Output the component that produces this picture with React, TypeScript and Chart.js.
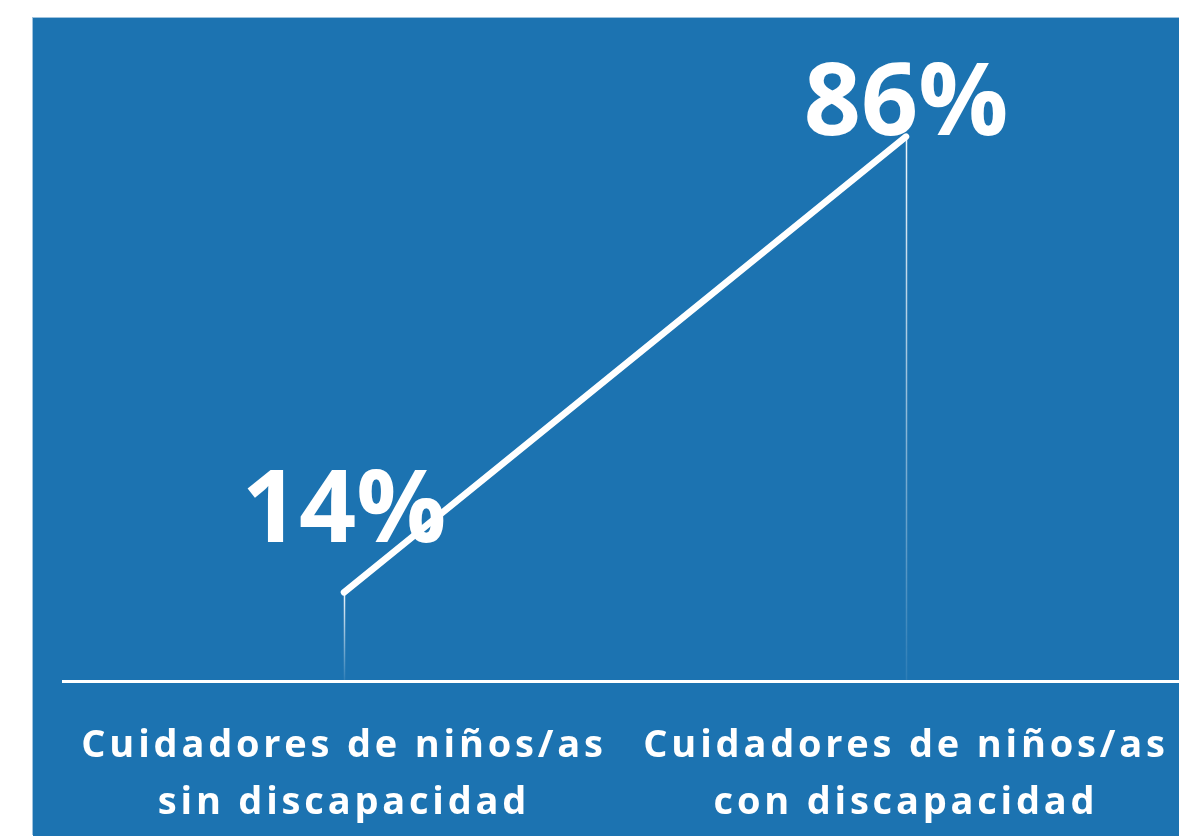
import React, { useEffect, useRef } from "react";
import { Chart, registerables } from "chart.js";

Chart.register(...registerables);

const categories: string[][] = [
  ["Cuidadores de niños/as", "sin discapacidad"],
  ["Cuidadores de niños/as", "con discapacidad"],
];
const values: number[] = [14, 86];
const valueLabels: string[] = ["14%", "86%"];

const BLUE = "#1c73b1";
const FONT = "'Open Sans', 'DejaVu Sans', sans-serif";
const LABEL_BASELINE_OFFSETS = [-50, -2];
const TICK_SPACING = "3.8px";

const valueLabelPlugin = {
  id: "valueLabels",
  beforeDraw(chart: any) {
    (chart.ctx as any).letterSpacing = TICK_SPACING;
  },
  beforeDatasetsDraw(chart: any) {
    const ctx = chart.ctx;
    const meta = chart.getDatasetMeta(0);
    const bottom = chart.chartArea.bottom;
    ctx.save();
    meta.data.forEach((pt: any) => {
      const g = ctx.createLinearGradient(0, pt.y, 0, bottom);
      g.addColorStop(0, "rgba(255,255,255,0.95)");
      g.addColorStop(1, "rgba(255,255,255,0.08)");
      ctx.strokeStyle = g;
      ctx.lineWidth = 1.5;
      ctx.beginPath();
      ctx.moveTo(Math.round(pt.x) + 0.5, pt.y);
      ctx.lineTo(Math.round(pt.x) + 0.5, bottom);
      ctx.stroke();
    });
    ctx.restore();
  },
  afterDatasetsDraw(chart: any) {
    const ctx = chart.ctx;
    const meta = chart.getDatasetMeta(0);
    ctx.save();
    (ctx as any).letterSpacing = "0px";
    ctx.fillStyle = "#ffffff";
    ctx.font = `bold 100px ${FONT}`;
    ctx.textAlign = "center";
    ctx.textBaseline = "alphabetic";
    meta.data.forEach((pt: any, i: number) => {
      ctx.fillText(valueLabels[i], pt.x, pt.y + LABEL_BASELINE_OFFSETS[i]);
    });
    ctx.restore();
    (ctx as any).letterSpacing = TICK_SPACING;
  },
};

export default function App() {
  const ref = useRef<HTMLCanvasElement | null>(null);
  useEffect(() => {
    if (!ref.current) return;
    const chart = new Chart(ref.current, {
      type: "line",
      data: {
        labels: categories,
        datasets: [
          {
            data: values,
            borderColor: "#ffffff",
            borderWidth: 6.5,
            borderCapStyle: "round",
            pointRadius: 0,
            pointHoverRadius: 0,
            tension: 0,
            fill: false,
            clip: false as any,
          },
        ],
      },
      options: {
        animation: false,
        responsive: false,
        devicePixelRatio: 1,
        layout: { padding: { left: 30, top: 30, right: 0, bottom: 0 } },
        plugins: {
          legend: { display: false },
          tooltip: { enabled: false },
          title: { display: false },
        },
        scales: {
          y: { display: false, min: 0, max: 100 },
          x: {
            type: "category",
            offset: true,
            grid: { display: false, drawTicks: false },
            border: { display: true, color: "#ffffff", width: 3 },
            ticks: {
              color: "#ffffff",
              padding: 37,
              maxRotation: 0,
              autoSkip: false,
              font: { family: FONT, size: 38, weight: "bold", lineHeight: 1.5 },
            },
            afterFit: (scale: any) => {
              scale.height = 155;
            },
          },
        },
      },
      plugins: [valueLabelPlugin],
    });
    return () => chart.destroy();
  }, []);

  return (
    <div
      style={{
        position: "absolute",
        left: 0,
        top: 0,
        width: 1179,
        height: 836,
        overflow: "hidden",
        background: "#ffffff",
      }}
    >
      <div
        style={{
          position: "absolute",
          left: 33,
          top: 18,
          width: 1154,
          height: 818,
          background: BLUE,
          boxShadow: "-1px -1px 0 #9fc3de",
        }}
      >
        <canvas ref={ref} width={1154} height={818} style={{ width: 1154, height: 818, display: "block" }} />
      </div>
    </div>
  );
}
